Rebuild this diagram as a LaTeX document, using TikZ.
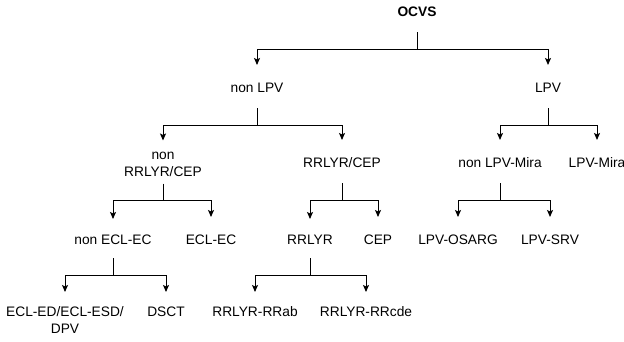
\documentclass[tikz,border=0pt]{standalone}
\usepackage{fontspec}
\setmainfont{Liberation Sans}
\usetikzlibrary{arrows.meta}
\begin{document}
\begin{tikzpicture}[x=1bp,y=-1bp,
  lbl/.style={inner sep=0pt, outer sep=0pt, font=\fontsize{13.8}{17}\selectfont,
    text height=15.5bp, text depth=3bp, minimum height=43bp},
  lbltwo/.style={lbl, text depth=20bp},
  conn/.style={line width=1bp, black},
  arr/.style={conn, -{Stealth[length=7bp,width=6bp,inset=1.5bp]}}]
\useasboundingbox (0,0) rectangle (624,341);
% nodes (positioned at cap-centre - 1.5)
\node[lbl, font=\fontsize{13.8}{17}\selectfont\bfseries] (ocvs) at (417,10.5) {OCVS};
\node[lbl] (nonlpv) at (257,86.5) {non LPV};
\node[lbl] (lpv) at (548,86.5) {LPV};
\node[lbltwo] (nonrr) at (163,162) {\begin{tabular}[t]{@{}c@{}}non\\RRLYR/CEP\end{tabular}};
\node[lbl] (rrcep) at (342,161.5) {RRLYR/CEP};
\node[lbl] (nonmira) at (500,161.5) {non LPV-Mira};
\node[lbl] (mira) at (597,161.5) {LPV-Mira};
\node[lbl, minimum height=39bp] (nonecl) at (113,238.5) {non ECL-EC};
\node[lbl] (ecl) at (211,238.5) {ECL-EC};
\node[lbl, minimum height=39bp] (rrlyr) at (310,238.5) {RRLYR};
\node[lbl] (cep) at (378,238.5) {CEP};
\node[lbl] (osarg) at (458,238.5) {LPV-OSARG};
\node[lbl] (srv) at (550,238.5) {LPV-SRV};
\node[lbltwo, minimum height=54bp] (ed) at (65,319) {\begin{tabular}[t]{@{}c@{}}ECL-ED/ECL-ESD/\\DPV\end{tabular}};
\node[lbl, minimum height=37bp] (dsct) at (166,310.5) {DSCT};
\node[lbl, minimum height=37bp] (rrab) at (255,310.5) {RRLYR-RRab};
\node[lbl, minimum height=37bp] (rrcde) at (366,310.5) {RRLYR-RRcde};
% junctions
\coordinate (j0) at (417,49);
\coordinate (j1) at (257,125);
\coordinate (j2) at (548,125);
\coordinate (j3) at (163,200);
\coordinate (j4) at (342,200);
\coordinate (j5) at (500,200);
\coordinate (j6) at (113,275);
\coordinate (j7) at (310,275);
% connectors
\draw[conn] (ocvs) -- (j0);
\draw[arr] (j0) -| (nonlpv);
\draw[arr] (j0) -| (lpv);
\draw[conn] (nonlpv) -- (j1);
\draw[arr] (j1) -| (nonrr);
\draw[arr] (j1) -| (rrcep);
\draw[conn] (lpv) -- (j2);
\draw[arr] (j2) -| (nonmira);
\draw[arr] (j2) -| (mira);
\draw[conn] (nonrr) -- (j3);
\draw[arr] (j3) -| (nonecl);
\draw[arr] (j3) -| (ecl);
\draw[conn] (rrcep) -- (j4);
\draw[arr] (j4) -| (rrlyr);
\draw[arr] (j4) -| (cep);
\draw[conn] (nonmira) -- (j5);
\draw[arr] (j5) -| (osarg);
\draw[arr] (j5) -| (srv);
\draw[conn] (nonecl) -- (j6);
\draw[arr] (j6) -| (ed);
\draw[arr] (j6) -| (dsct);
\draw[conn] (rrlyr) -- (j7);
\draw[arr] (j7) -| (rrab);
\draw[arr] (j7) -| (rrcde);
\end{tikzpicture}
\end{document}
